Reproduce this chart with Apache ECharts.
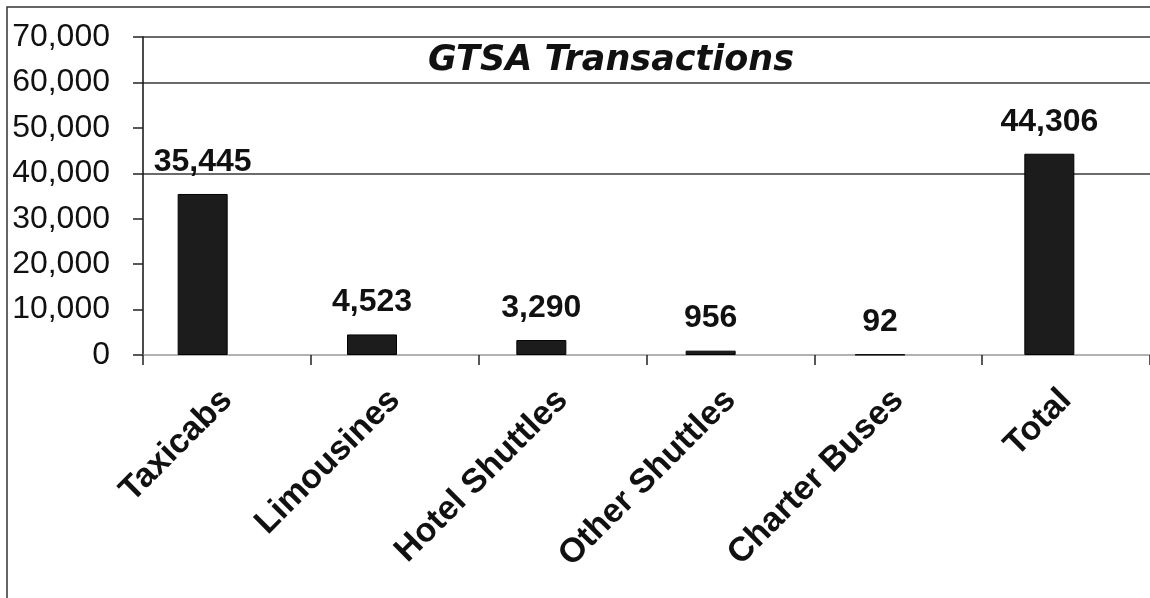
<!DOCTYPE html>
<html>
<head>
<meta charset="utf-8">
<script src="https://cdn.jsdelivr.net/npm/echarts@6/dist/echarts.min.js"></script>
<style>
  html, body { margin: 0; padding: 0; background: #fff; }
  #chart { width: 1150px; height: 598px; }
</style>
</head>
<body>
<div id="chart"></div>
<script>
var categories = ['Taxicabs', 'Limousines', 'Hotel Shuttles', 'Other Shuttles', 'Charter Buses', 'Total'];
var transactions = [35445, 4523, 3290, 956, 92, 44306];
var yTicks = [0, 10000, 20000, 30000, 40000, 50000, 60000, 70000];

var myChart = echarts.init(document.getElementById('chart'));
var font = "'Liberation Sans', Arial, sans-serif";

function fmt(v) {
  return Number(v).toLocaleString('en-US');
}

// only some gridlines survive in the original (70k, 60k, 40k)
var gridColors = yTicks.map(function (v) {
  return (v === 40000 || v === 60000 || v === 70000) ? '#3a3a3a' : 'rgba(0,0,0,0)';
});

var option = {
  animation: false,
  backgroundColor: '#fff',
  title: {
    text: 'GTSA Transactions',
    left: 423,
    top: 38,
    textStyle: {
      fontFamily: "'DejaVu Sans', sans-serif",
      fontStyle: 'italic',
      fontWeight: 'bold',
      fontSize: 35,
      color: '#111'
    }
  },
  graphic: [{
    type: 'rect',
    shape: { x: 7, y: 7, width: 1300, height: 700 },
    style: { fill: 'none', stroke: '#333', lineWidth: 1.5 },
    silent: true
  }],
  grid: [
    { left: 143, top: 37, width: 1016, height: 318 },
    // bars sit a little left of the category centres in the original
    { left: 118, top: 37, width: 1016, height: 318 }
  ],
  xAxis: [{
    type: 'category',
    gridIndex: 0,
    data: categories,
    axisLine: { lineStyle: { color: '#999', width: 1.5 } },
    axisTick: { show: true, alignWithLabel: false, length: 10, lineStyle: { color: '#222', width: 1.5 } },
    axisLabel: {
      rotate: 45,
      margin: 40,
      interval: 0,
      fontFamily: font,
      fontWeight: 'bold',
      fontSize: 34,
      color: '#111'
    },
    splitLine: { show: false }
  }, {
    type: 'category',
    gridIndex: 1,
    data: categories,
    show: false
  }],
  yAxis: [{
    type: 'value',
    gridIndex: 0,
    min: 0,
    max: 70000,
    interval: 10000,
    axisLine: { show: true, lineStyle: { color: '#111', width: 1.5 } },
    axisTick: { show: true, length: 10, lineStyle: { color: '#222', width: 1.5 } },
    axisLabel: {
      margin: 33,
      fontFamily: font,
      fontSize: 32,
      color: '#111',
      formatter: fmt
    },
    splitLine: { show: true, lineStyle: { color: gridColors, width: 1.5 } }
  }, {
    type: 'value',
    gridIndex: 1,
    min: 0,
    max: 70000,
    interval: 10000,
    show: false,
    splitLine: { show: false }
  }],
  series: [{
    type: 'bar',
    name: 'Transactions',
    xAxisIndex: 1,
    yAxisIndex: 1,
    data: transactions,
    barWidth: 50,
    itemStyle: { color: '#1c1c1c', borderColor: '#000', borderWidth: 1 },
    label: {
      show: true,
      position: 'top',
      distance: 16,
      fontFamily: font,
      fontWeight: 'bold',
      fontSize: 32,
      color: '#111',
      formatter: function (p) { return fmt(p.value); }
    }
  }]
};

myChart.setOption(option);
</script>
</body>
</html>
